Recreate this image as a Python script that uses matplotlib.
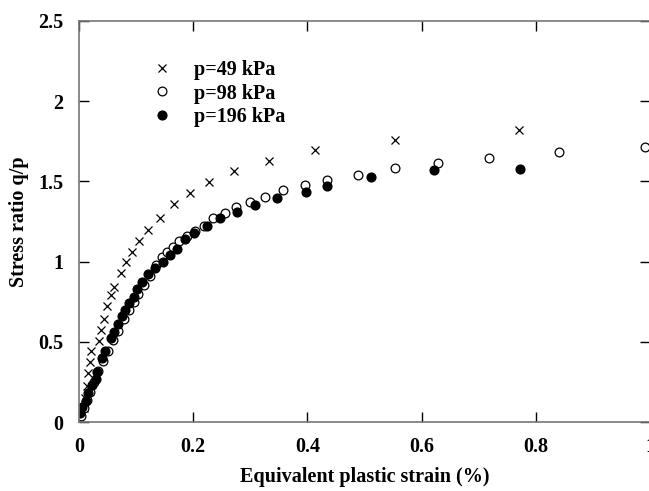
import numpy as np
import matplotlib
matplotlib.use('Agg')
import matplotlib.pyplot as plt
from matplotlib.ticker import FuncFormatter

# p = 49 kPa (crosses)
x49 = [0.0, 0.008, 0.011, 0.014, 0.016, 0.019, 0.021, 0.035, 0.039, 0.044, 0.049,
       0.056, 0.061, 0.074, 0.082, 0.093, 0.105, 0.121, 0.142, 0.167, 0.195,
       0.228, 0.272, 0.333, 0.414, 0.553, 0.77]
y49 = [0.02, 0.09, 0.15, 0.225, 0.306, 0.375, 0.44, 0.506, 0.575, 0.644, 0.725,
       0.79, 0.844, 0.931, 1.0, 1.062, 1.131, 1.2, 1.269, 1.362, 1.425,
       1.494, 1.562, 1.63, 1.694, 1.756, 1.82]

# p = 98 kPa (open circles)
x98 = [0.003, 0.008, 0.014, 0.019, 0.026, 0.034, 0.042, 0.05, 0.06, 0.068, 0.078,
       0.087, 0.096, 0.104, 0.113, 0.124, 0.135, 0.146, 0.154, 0.165, 0.175,
       0.19, 0.204, 0.219, 0.235, 0.256, 0.275, 0.30, 0.326, 0.358, 0.395,
       0.435, 0.489, 0.553, 0.628, 0.718, 0.84, 0.991]
y98 = [0.04, 0.09, 0.14, 0.19, 0.25, 0.32, 0.38, 0.44, 0.51, 0.57, 0.64,
       0.70, 0.75, 0.80, 0.856, 0.91, 0.98, 1.03, 1.06, 1.09, 1.13,
       1.16, 1.19, 1.225, 1.269, 1.30, 1.34, 1.37, 1.40, 1.444, 1.475,
       1.506, 1.537, 1.581, 1.612, 1.644, 1.681, 1.712]

# p = 196 kPa (filled circles)
x196 = [0.002, 0.005, 0.012, 0.016, 0.023, 0.030, 0.032, 0.040, 0.046, 0.056,
        0.061, 0.068, 0.075, 0.081, 0.088, 0.096, 0.102, 0.11, 0.121, 0.133,
        0.147, 0.16, 0.172, 0.186, 0.202, 0.225, 0.247, 0.277, 0.309, 0.346,
        0.398, 0.435, 0.511, 0.621, 0.772]
y196 = [0.056, 0.094, 0.13, 0.18, 0.23, 0.27, 0.31, 0.40, 0.44, 0.525,
        0.56, 0.61, 0.66, 0.70, 0.74, 0.78, 0.83, 0.875, 0.92, 0.96,
        1.00, 1.04, 1.08, 1.14, 1.18, 1.225, 1.27, 1.31, 1.35, 1.394,
        1.437, 1.469, 1.525, 1.569, 1.575]

plt.rcParams['font.family'] = ['Liberation Serif', 'DejaVu Serif']
plt.rcParams['font.weight'] = 'bold'

fig = plt.figure(figsize=(6.49, 4.91), dpi=100)
ax = fig.add_axes([79 / 649, 1 - 422 / 491, 571 / 649, 401 / 491])

ax.plot(x49, y49, 'x', color='black', markersize=6, markeredgewidth=0.9, label='p=49 kPa')
ax.plot(x98, y98, 'o', markerfacecolor='white', markeredgecolor='black', markersize=6.3,
        markeredgewidth=0.9, label='p=98 kPa')
ax.plot(x196, y196, 'o', color='black', markersize=6.3, label='p=196 kPa')

ax.set_xlim(0, 1)
ax.set_ylim(0, 2.5)
ax.set_xticks([0, 0.2, 0.4, 0.6, 0.8, 1.0])
ax.set_yticks([0, 0.5, 1, 1.5, 2, 2.5])
ax.xaxis.set_major_formatter(FuncFormatter(lambda v, p: '%g' % v))
ax.yaxis.set_major_formatter(FuncFormatter(lambda v, p: '%g' % v))
ax.tick_params(direction='in', length=7, width=1, top=True, right=True,
               labelsize=14.5, pad=11, colors='black')
for s in ax.spines.values():
    s.set_color('#777777')
    s.set_linewidth(1.2)

ax.set_xlabel('Equivalent plastic strain (%)', fontsize=14.5, fontweight='bold', labelpad=7)
ax.set_ylabel('Stress ratio q/p', fontsize=14.5, fontweight='bold', labelpad=7)

ax.legend(loc='upper left', bbox_to_anchor=(0.128, 0.903), frameon=False,
          fontsize=14.5, handletextpad=1.1, labelspacing=0.18, handlelength=1.0,
          borderaxespad=0, borderpad=0)

fig.savefig('out.png', dpi=100)
